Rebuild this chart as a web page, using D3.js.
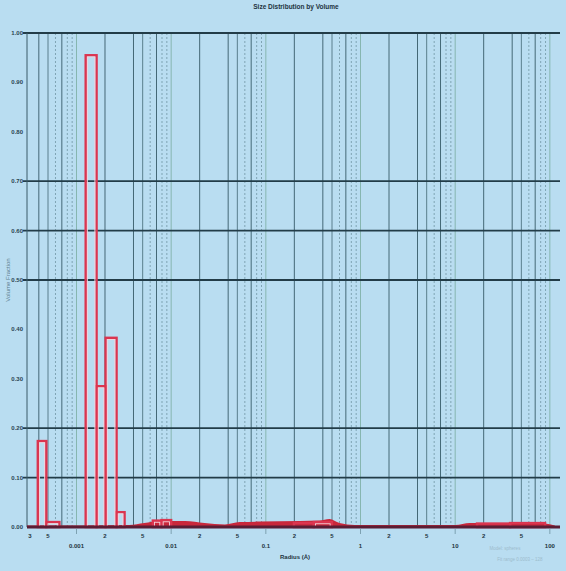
<!DOCTYPE html>
<html>
<head>
<meta charset="utf-8">
<script src="https://cdn.jsdelivr.net/npm/d3@7"></script>
<style>
  html, body { margin: 0; padding: 0; background: #b9ddf1; }
  svg { display: block; font-family: "Liberation Sans", "DejaVu Sans", sans-serif; }
</style>
</head>
<body>
<svg id="chart" width="566" height="571"></svg>
<script>
// histogram bins: lower edge, upper edge, volume fraction
const bin_lo  = [0.00039, 0.00048, 0.00125, 0.00163, 0.00203, 0.00265, 0.0064, 0.0079, 0.198, 0.321, 17, 38];
const bin_hi  = [0.00048, 0.00066, 0.00163, 0.00203, 0.00265, 0.00322, 0.0079, 0.0100, 0.321, 0.498, 38, 89];
const bin_val = [0.174, 0.010, 0.955, 0.285, 0.383, 0.030, 0.013, 0.014, 0.008, 0.010, 0.007, 0.008];

// smooth distribution drawn as filled band along the baseline
const curve_size = [0.0003, 0.00108, 0.0036, 0.0052, 0.0075, 0.014, 0.0225, 0.037, 0.053, 0.086, 0.23, 0.37, 0.47, 0.60, 0.87, 10, 14.3, 29.6, 61.5, 88.5, 113];
const curve_val  = [0.003, 0.003, 0.004, 0.008, 0.012, 0.012, 0.008, 0.005, 0.010, 0.011, 0.012, 0.013, 0.016, 0.008, 0.004, 0.004, 0.008, 0.008, 0.009, 0.007, 0.003];

// axis ticks
const y_ticks = d3.range(0, 11).map(i => i / 10);
const y_grid = [0.1, 0.2, 0.5, 0.6, 0.7, 1.0];
const x_minor_labels = [0.0003, 0.0005, 0.002, 0.005, 0.02, 0.05, 0.2, 0.5, 2, 5, 20, 50];
const x_major_labels = [0.001, 0.01, 0.1, 1, 10, 100];
const decades = [0.0001, 0.001, 0.01, 0.1, 1, 10, 100];

const W = 566, H = 571;
const m_left = 27, m_right = 560, m_top = 33, m_bottom = 527;

const svg = d3.select('#chart');
svg.append('rect').attr('width', W).attr('height', H).attr('fill', '#b9ddf1');

const x = d3.scaleLog().domain([0.0003, 128]).range([m_left, m_right]);
const y = d3.scaleLinear().domain([0, 1]).range([m_bottom, m_top]);

const inside = v => v >= x.domain()[0] && v <= x.domain()[1];

// vertical grid
const grid = svg.append('g');
const vlines = [];
decades.forEach(d => {
  vlines.push({ v: d, kind: 'decade' });
  [2, 4, 7].forEach(m => vlines.push({ v: d * m, kind: 'solid' }));
  vlines.push({ v: d * 5, kind: 'five' });
  [6, 8, 9].forEach(m => vlines.push({ v: d * m, kind: 'dash' }));
});
grid.selectAll('.vline')
  .data(vlines.filter(l => inside(l.v)))
  .join('line')
  .attr('class', 'vline')
  .attr('x1', d => x(d.v)).attr('x2', d => x(d.v))
  .attr('y1', m_top).attr('y2', m_bottom)
  .attr('stroke', d => d.kind == 'solid' ? '#446876' : d.kind == 'five' ? '#5a7f8d' : d.kind == 'decade' ? '#86b6b0' : '#7196a5')
  .attr('stroke-width', d => d.kind == 'dash' ? 0.8 : 1)
  .attr('stroke-dasharray', d => d.kind == 'dash' ? '2,2' : null);

// horizontal grid
grid.selectAll('.hline')
  .data(y_grid)
  .join('line')
  .attr('class', 'hline')
  .attr('x1', m_left - 4).attr('x2', m_right)
  .attr('y1', d => y(d)).attr('y2', d => y(d))
  .attr('stroke', '#223c48')
  .attr('stroke-width', 1.8);

// left axis line
svg.append('line')
  .attr('x1', m_left).attr('x2', m_left).attr('y1', m_top).attr('y2', m_bottom)
  .attr('stroke', '#3a5a68').attr('stroke-width', 1);

// distribution band
const area = d3.area()
  .x((d, i) => x(curve_size[i]))
  .y0(y(0))
  .y1((d, i) => y(curve_val[i]))
  .curve(d3.curveMonotoneX);
svg.append('path')
  .datum(curve_val)
  .attr('d', area)
  .attr('fill', '#c9283c');

// histogram bars
const bars = svg.append('g');
const bin_data = bin_val.map((v, i) => ({ lo: bin_lo[i], hi: bin_hi[i], v }));
bars.selectAll('.bar')
  .data(bin_data)
  .join('rect')
  .attr('class', 'bar')
  .attr('x', d => x(d.lo))
  .attr('y', d => y(d.v))
  .attr('width', d => x(d.hi) - x(d.lo))
  .attr('height', d => y(0) - y(d.v))
  .attr('fill', 'none')
  .attr('stroke', '#db3550')
  .attr('stroke-width', 2.4);
bars.selectAll('.bar-in')
  .data(bin_data.filter(d => y(0) - y(d.v) > 4))
  .join('rect')
  .attr('class', 'bar-in')
  .attr('x', d => x(d.lo) + 1.7)
  .attr('y', d => y(d.v) + 1.7)
  .attr('width', d => Math.max(0, x(d.hi) - x(d.lo) - 3.4))
  .attr('height', d => y(0) - y(d.v) - 1.7)
  .attr('fill', 'none')
  .attr('stroke', '#f7d2da')
  .attr('stroke-width', 0.9);

// baseline
svg.append('line')
  .attr('x1', m_left).attr('x2', m_right).attr('y1', m_bottom).attr('y2', m_bottom)
  .attr('stroke', '#5a1d34').attr('stroke-width', 3);

// y labels
svg.append('g').selectAll('text')
  .data(y_ticks)
  .join('text')
  .attr('x', 23).attr('y', d => y(d) + 2)
  .attr('text-anchor', 'end')
  .attr('font-size', 6).attr('font-weight', 'bold')
  .attr('fill', '#2a4452')
  .text(d3.format('.2f'));

// x labels, two rows
const mantissa = v => String(Math.round(v / Math.pow(10, Math.floor(Math.log10(v) + 1e-9))));
svg.append('g').selectAll('text')
  .data(x_minor_labels)
  .join('text')
  .attr('x', d => Math.max(x(d), m_left + 3)).attr('y', 538)
  .attr('text-anchor', 'middle')
  .attr('font-size', 6).attr('font-weight', 'bold')
  .attr('fill', '#1e3440')
  .text(mantissa);
svg.append('g').selectAll('line')
  .data(x_major_labels)
  .join('line')
  .attr('x1', d => x(d)).attr('x2', d => x(d))
  .attr('y1', m_bottom + 2).attr('y2', m_bottom + 7)
  .attr('stroke', '#6f93a2').attr('stroke-width', 0.8);
svg.append('g').selectAll('text')
  .data(x_major_labels)
  .join('text')
  .attr('x', d => x(d)).attr('y', 548)
  .attr('text-anchor', 'middle')
  .attr('font-size', 6).attr('font-weight', 'bold')
  .attr('fill', '#1e3440')
  .text(d3.format('~g'));

// titles
svg.append('text')
  .attr('x', 296).attr('y', 9)
  .attr('text-anchor', 'middle')
  .attr('font-size', 6.5).attr('font-weight', 'bold')
  .attr('fill', '#1d3340')
  .text('Size Distribution by Volume');

svg.append('text')
  .attr('x', 295).attr('y', 559)
  .attr('text-anchor', 'middle')
  .attr('font-size', 6).attr('font-weight', 'bold')
  .attr('fill', '#1e3440')
  .text('Radius (Å)');

svg.append('text')
  .attr('transform', 'translate(10,280) rotate(-90)')
  .attr('text-anchor', 'middle')
  .attr('font-size', 6)
  .attr('fill', '#5d7e90')
  .text('Volume Fraction');

// faint notes bottom right
svg.append('text')
  .attr('x', 505).attr('y', 550)
  .attr('text-anchor', 'middle')
  .attr('font-size', 4.5)
  .attr('fill', '#9dbccd')
  .text('Model: spheres');
svg.append('text')
  .attr('x', 520).attr('y', 561)
  .attr('text-anchor', 'middle')
  .attr('font-size', 4.5)
  .attr('fill', '#9dbccd')
  .text('Fit range 0.0003 – 128');
</script>
</body>
</html>
